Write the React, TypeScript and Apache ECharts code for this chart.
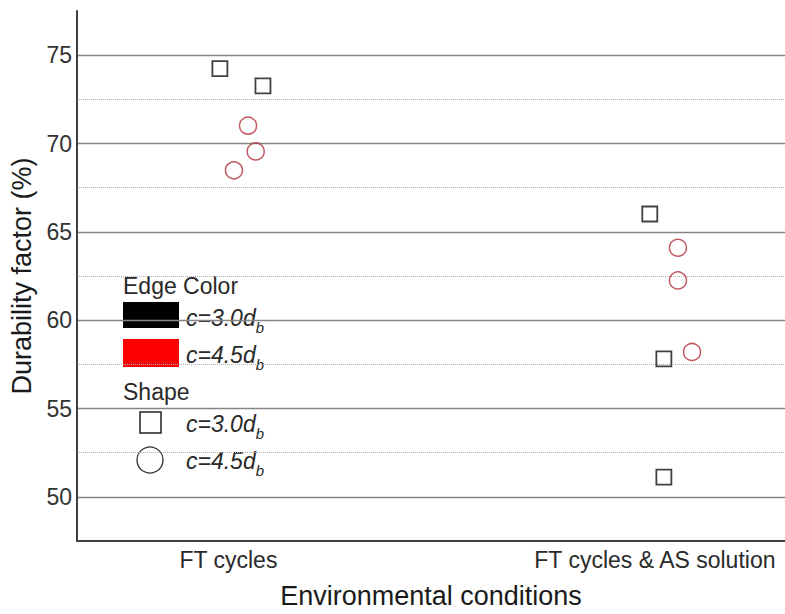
import React, { useEffect, useRef } from "react";
import * as echarts from "echarts";

const categories = ["FT cycles", "FT cycles & AS solution"];
const categoryPositions = [1, 2];
const yTickLabels = [50, 55, 60, 65, 70, 75];

// c = 3.0 d_b (squares, black edge)
const squarePoints: [number, number][] = [
  [0.98, 74.24],
  [1.081, 73.26],
  [1.988, 66.01],
  [2.021, 57.81],
  [2.021, 51.12],
];
// c = 4.5 d_b (circles, red edge)
const circlePoints: [number, number][] = [
  [1.046, 71.01],
  [1.064, 69.55],
  [1.013, 68.48],
  [2.054, 64.1],
  [2.054, 62.25],
  [2.087, 58.2],
];

const legendLabels = ["c=3.0d", "c=4.5d"];
const legendSub = "b";

const FONT = "Liberation Sans, Arial, sans-serif";

export default function App() {
  const ref = useRef<HTMLDivElement>(null);
  useEffect(() => {
    if (!ref.current) return;
    const chart = echarts.init(ref.current, null, { renderer: "svg" });
    const richLabel = (t: string, x: number, y: number) => ({
      type: "text",
      x,
      y,
      style: {
        text: `{m|${t}}{s|${legendSub}}`,
        verticalAlign: "middle",
        align: "left",
        rich: {
          m: {
            fontSize: 23,
            fontStyle: "italic",
            fontFamily: FONT,
            fill: "#2a2a2a",
            lineHeight: 34,
          },
          s: {
            fontSize: 15,
            fontStyle: "italic",
            fontFamily: FONT,
            fill: "#2a2a2a",
            verticalAlign: "bottom",
          },
        },
      },
    });
    chart.setOption({
      animation: false,
      backgroundColor: "#fff",
      grid: { left: 77, right: 0, top: 11, bottom: 69 },
      xAxis: {
        type: "value",
        min: 0.645,
        max: 2.305,
        name: "Environmental conditions",
        nameLocation: "middle",
        nameGap: 41,
        nameTextStyle: { fontSize: 27, color: "#1a1a1a", fontFamily: FONT },
        axisLine: { show: true, onZero: false, lineStyle: { color: "#404040", width: 2 } },
        axisTick: { show: false },
        splitLine: { show: false },
        axisLabel: {
          customValues: categoryPositions,
          formatter: (v: number) => categories[Math.round(v) - 1] ?? "",
          fontSize: 23,
          color: "#2a2a2a",
          fontFamily: FONT,
          margin: 7,
        },
      },
      yAxis: [
        {
          type: "value",
          min: 47.5,
          max: 77.5,
          interval: 2.5,
          name: "Durability factor (%)",
          nameLocation: "middle",
          nameGap: 36,
          nameTextStyle: { fontSize: 27, color: "#1a1a1a", fontFamily: FONT },
          axisLine: { show: true, lineStyle: { color: "#404040", width: 2 } },
          axisTick: { show: false },
          axisLabel: {
            formatter: (v: number) => (yTickLabels.includes(v) ? String(v) : ""),
            fontSize: 23,
            color: "#333",
            fontFamily: FONT,
            margin: 5,
          },
          splitLine: {
            show: true,
            lineStyle: { color: ["transparent", "#858585"], width: 1.4, type: "solid" },
          },
        },
        {
          type: "value",
          min: 47.5,
          max: 77.5,
          interval: 5,
          axisLine: { show: false },
          axisTick: { show: false },
          axisLabel: { show: false },
          splitLine: {
            show: true,
            showMinLine: false,
            showMaxLine: false,
            lineStyle: { color: "#b0b0b0", width: 1, type: "dotted" },
          },
        },
      ],
      series: [
        {
          type: "scatter",
          yAxisIndex: 0,
          symbol: "rect",
          symbolSize: 15,
          data: squarePoints,
          itemStyle: { color: "rgba(0,0,0,0)", borderColor: "#111", borderWidth: 1.8 },
        },
        {
          type: "scatter",
          yAxisIndex: 0,
          symbol: "circle",
          symbolSize: 17,
          data: circlePoints,
          itemStyle: { color: "rgba(0,0,0,0)", borderColor: "#b0323c", borderWidth: 1.5 },
        },
      ],
      graphic: [
        {
          type: "text",
          x: 123,
          y: 286,
          style: {
            text: "Edge Color",
            fontSize: 23,
            fontFamily: FONT,
            fill: "#2a2a2a",
            verticalAlign: "middle",
          },
        },
        { type: "rect", shape: { x: 123, y: 302, width: 56, height: 26 }, style: { fill: "#000" } },
        { type: "rect", shape: { x: 123, y: 339, width: 56, height: 28 }, style: { fill: "#ff0000" } },
        richLabel(legendLabels[0], 186, 318),
        richLabel(legendLabels[1], 186, 355),
        {
          type: "text",
          x: 123,
          y: 392,
          style: {
            text: "Shape",
            fontSize: 23,
            fontFamily: FONT,
            fill: "#2a2a2a",
            verticalAlign: "middle",
          },
        },
        {
          type: "rect",
          shape: { x: 140, y: 412, width: 21, height: 21 },
          style: { fill: "none", stroke: "#222", lineWidth: 1.5 },
        },
        {
          type: "circle",
          shape: { cx: 150, cy: 460, r: 13 },
          style: { fill: "none", stroke: "#333", lineWidth: 1.3 },
        },
        richLabel(legendLabels[0], 186, 424),
        richLabel(legendLabels[1], 186, 461),
      ],
    });
    return () => chart.dispose();
  }, []);
  return (
    <div
      ref={ref}
      style={{ position: "absolute", left: 0, top: 0, width: 785, height: 614 }}
    />
  );
}
